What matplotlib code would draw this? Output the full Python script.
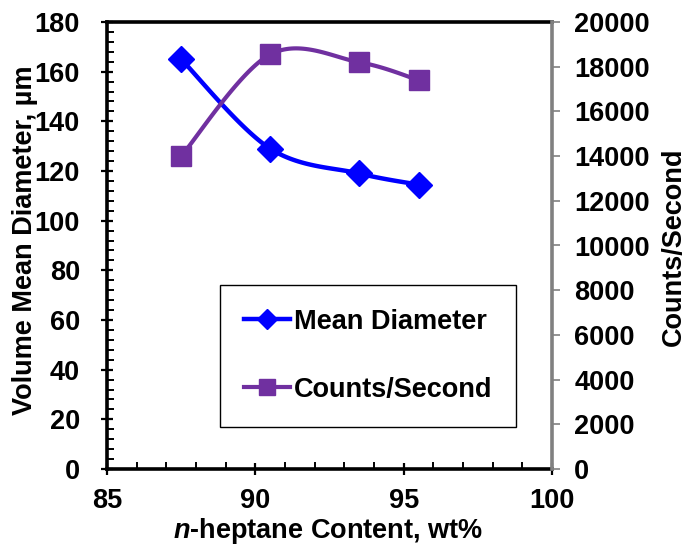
import numpy as np
import matplotlib
matplotlib.use("Agg")
import matplotlib.pyplot as plt
from matplotlib.lines import Line2D
from matplotlib.ticker import MultipleLocator

plt.rcParams['font.family'] = ['Liberation Sans', 'DejaVu Sans']
plt.rcParams['font.weight'] = 'bold'
plt.rcParams['mathtext.fontset'] = 'custom'
plt.rcParams['mathtext.it'] = 'Liberation Sans:italic:bold'
plt.rcParams['mathtext.rm'] = 'Liberation Sans:bold'

# ---- data ----
heptane = [87.5, 90.5, 93.5, 95.5]
mean_diameter = [165, 129, 119, 114.5]
counts_per_second = [14000, 18550, 18200, 17400]

x_ticks = [85, 90, 95, 100]
left_ticks = [0, 20, 40, 60, 80, 100, 120, 140, 160, 180]
right_ticks = [0, 2000, 4000, 6000, 8000, 10000, 12000, 14000, 16000, 18000, 20000]

BLUE = '#0000FF'
PURPLE = '#7030A0'
FS = 19.5


def smooth(xs, ys, n=40):
    """Excel-like smoothed line (Catmull-Rom Bezier) through the points."""
    p = np.column_stack([xs, ys]).astype(float)
    out = []
    m = len(p)
    for i in range(m - 1):
        p0 = p[i]
        p3 = p[i + 1]
        prev = p[i - 1] if i > 0 else p[i]
        nxt = p[i + 2] if i + 2 < m else p[i + 1]
        c1 = p0 + (p3 - prev) / 6.0
        c2 = p3 - (nxt - p0) / 6.0
        t = np.linspace(0, 1, n)[:, None]
        seg = ((1 - t) ** 3) * p0 + 3 * ((1 - t) ** 2) * t * c1 + 3 * (1 - t) * t ** 2 * c2 + t ** 3 * p3
        out.append(seg if i == 0 else seg[1:])
    s = np.vstack(out)
    return s[:, 0], s[:, 1]


fig = plt.figure(figsize=(6.88, 5.5), dpi=100)
ax = fig.add_axes([107 / 688, 1 - 469 / 550, 445 / 688, 447 / 550])
ax2 = ax.twinx()

# Mean diameter
sx, sy = smooth(heptane, mean_diameter)
ax.plot(sx, sy, color=BLUE, lw=3.2, zorder=3)
ax.plot(heptane, mean_diameter, linestyle='none', marker='D', ms=13, color=BLUE, zorder=4)

# Counts/second
cx, cy = smooth(heptane, counts_per_second)
ax2.plot(cx, cy, color=PURPLE, lw=3.0, zorder=3)
ax2.plot(heptane, counts_per_second, linestyle='none', marker='s', ms=14, color=PURPLE, zorder=4)

ax.set_xlim(85, 100)
ax.set_ylim(0, 180)
ax2.set_ylim(0, 20000)

ax.set_xticks(x_ticks)
ax.set_yticks(left_ticks)
ax2.set_yticks(right_ticks)
ax.xaxis.set_minor_locator(MultipleLocator(1))
ax.yaxis.set_minor_locator(MultipleLocator(4))

ax.tick_params(axis='both', which='major', direction='inout', length=9, width=1.6,
               labelsize=FS, color='black')
ax.tick_params(axis='y', which='major', pad=15)
ax.tick_params(axis='x', which='major', pad=9)
ax.tick_params(axis='both', which='minor', direction='in', length=5, width=1.4)
ax.tick_params(axis='y', which='both', right=False)
ax.tick_params(axis='x', which='both', top=False)

ax2.tick_params(axis='y', which='major', direction='out', length=6, width=1.2,
                color='#808080', labelsize=FS, pad=10)

for lab in ax.get_xticklabels() + ax.get_yticklabels() + ax2.get_yticklabels():
    lab.set_fontweight('bold')

for name in ['left', 'bottom', 'top']:
    ax.spines[name].set_linewidth(2.6)
    ax.spines[name].set_color('black')
ax.spines['right'].set_visible(False)
for name in ['left', 'bottom', 'top']:
    ax2.spines[name].set_visible(False)
ax2.spines['right'].set_color('#808080')
ax2.spines['right'].set_linewidth(2.6)

fig.text(25 / 688, 1 - 240 / 550, 'Volume Mean Diameter, µm', rotation=90,
         ha='center', va='center', fontsize=FS, fontweight='bold')
fig.text(674 / 688, 1 - 247 / 550, 'Counts/Second', rotation=90,
         ha='center', va='center', fontsize=FS, fontweight='bold')
fig.text(328 / 688, 1 - 531 / 550, '$n$-heptane Content, wt%',
         ha='center', va='center', fontsize=FS, fontweight='bold')

handles = [
    Line2D([], [], color=BLUE, lw=3.2, marker='D', ms=10, label='Mean Diameter'),
    Line2D([], [], color=PURPLE, lw=3.0, marker='s', ms=11, label='Counts/Second'),
]
leg = fig.legend(handles=handles, loc='upper left',
                 bbox_to_anchor=(220 / 688, 1 - 285 / 550),
                 frameon=True, fancybox=False, edgecolor='black', framealpha=1,
                 prop={'size': FS, 'weight': 'bold'},
                 handlelength=1.72, handletextpad=0.12, labelspacing=1.55,
                 borderpad=0.88, borderaxespad=0)
leg.get_frame().set_linewidth(1.0)

fig.savefig('out.png', dpi=100)
